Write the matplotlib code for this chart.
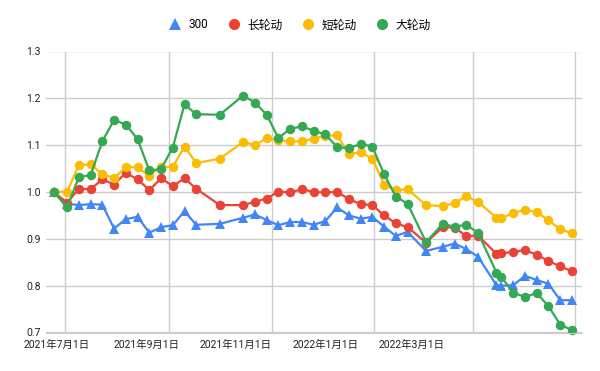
import matplotlib
matplotlib.use("Agg")
import matplotlib.pyplot as plt
from matplotlib.lines import Line2D
import pandas as pd

plt.rcParams['font.family'] = ['Roboto', 'Noto Sans CJK SC', 'DejaVu Sans']

dates = ["2021-06-24", "2021-07-02", "2021-07-09", "2021-07-16", "2021-07-23", "2021-07-30",
         "2021-08-06", "2021-08-13", "2021-08-20", "2021-08-27", "2021-09-03", "2021-09-10",
         "2021-09-17", "2021-10-01", "2021-10-15", "2021-10-22", "2021-10-29", "2021-11-05",
         "2021-11-12", "2021-11-19", "2021-11-26", "2021-12-03", "2021-12-10", "2021-12-17",
         "2021-12-24", "2021-12-31", "2022-01-07", "2022-01-14", "2022-01-21", "2022-02-01",
         "2022-02-11", "2022-02-18", "2022-02-25", "2022-03-04", "2022-03-15", "2022-03-18",
         "2022-03-25", "2022-04-01", "2022-04-08", "2022-04-15", "2022-04-22", "2022-04-29"]

s300 = [1.000, 0.975, 0.972, 0.974, 0.973, 0.922, 0.942, 0.947, 0.913, 0.925, 0.929, 0.959,
        0.930, 0.932, 0.945, 0.952, 0.940, 0.929, 0.936, 0.936, 0.930, 0.938, 0.967, 0.950,
        0.943, 0.947, 0.926, 0.906, 0.915, 0.874, 0.883, 0.890, 0.878, 0.862, 0.801, 0.800,
        0.801, 0.821, 0.812, 0.804, 0.769, 0.769]
long_rot = [1.000, 0.977, 1.007, 1.006, 1.027, 1.016, 1.041, 1.027, 1.004, 1.029, 1.013, 1.029,
            1.007, 0.972, 0.972, 0.979, 0.986, 1.001, 0.999, 1.006, 1.000, 0.999, 1.000, 0.985,
            0.974, 0.972, 0.950, 0.933, 0.925, 0.892, 0.925, 0.924, 0.906, 0.907, 0.868, 0.869,
            0.872, 0.876, 0.866, 0.853, 0.841, 0.831]
short_rot = [1.000, 1.001, 1.057, 1.059, 1.038, 1.030, 1.053, 1.053, 1.034, 1.054, 1.053, 1.097,
             1.062, 1.071, 1.107, 1.100, 1.115, 1.111, 1.108, 1.108, 1.114, 1.120, 1.121, 1.081,
             1.085, 1.071, 1.016, 1.004, 1.006, 0.972, 0.970, 0.976, 0.991, 0.979, 0.945, 0.944,
             0.955, 0.962, 0.957, 0.940, 0.920, 0.912]
big_rot = [1.000, 0.967, 1.032, 1.036, 1.108, 1.154, 1.144, 1.113, 1.046, 1.049, 1.095, 1.187,
           1.166, 1.165, 1.206, 1.191, 1.165, 1.115, 1.135, 1.140, 1.131, 1.123, 1.096, 1.093,
           1.103, 1.097, 1.038, 0.990, 0.975, 0.893, 0.932, 0.926, 0.930, 0.913, 0.828, 0.818,
           0.785, 0.776, 0.784, 0.756, 0.717, 0.705]

series_names = ["300", "长轮动", "短轮动", "大轮动"]
colors = ["#4285F4", "#EA4335", "#FBBC04", "#34A853"]
markers = ["^", "o", "o", "o"]

grid_dates = ["2021-07-01", "2021-09-01", "2021-11-01", "2022-01-01", "2022-03-01", "2022-05-01"]
tick_labels = ["2021年7月1日", "2021年9月1日", "2021年11月1日", "2022年1月1日", "2022年3月1日"]
# where the labels sit (Google-Sheets style offset labels)
label_anchor = ["2021-06-25 18:00", "2021-08-18 10:00", "2021-10-10 17:00", "2021-12-03 08:00", "2022-01-23 15:00"]
yticks = [0.7, 0.8, 0.9, 1.0, 1.1, 1.2, 1.3]

x = pd.to_datetime(dates)

fig = plt.figure(figsize=(6.0, 3.71), dpi=100)
ax = fig.add_axes([46/600, 1 - 332.5/371, (582-46)/600, (332.5-51.5)/371])

for vals, name, c, m in zip([s300, long_rot, short_rot, big_rot], series_names, colors, markers):
    ax.plot(x, vals, color=c, lw=1.6, marker=m, markersize=6.8 if m == "o" else 7.2,
            markeredgewidth=0, label=name, clip_on=False)

ax.set_ylim(0.7, 1.3)
ax.set_yticks(yticks)
ax.set_yticklabels([f"{v:.1f}" for v in yticks])
ax.set_xlim(pd.Timestamp("2021-06-19 10:00"), pd.Timestamp("2022-05-05"))

ax.set_xticks(pd.to_datetime(grid_dates), minor=True)
ax.set_xticks(pd.to_datetime(label_anchor))
ax.set_xticklabels(tick_labels)
ax.grid(True, axis='y', color="#cccccc", lw=1.0)
ax.grid(True, axis='x', which='minor', color="#cccccc", lw=1.0)
ax.grid(False, axis='x', which='major')
ax.set_axisbelow(True)
ax.tick_params(axis='both', which='both', length=0, labelsize=7.5, colors="#222222")
ax.tick_params(axis='x', pad=5)
ax.tick_params(axis='y', pad=4)
for s in ["top", "right", "left"]:
    ax.spines[s].set_visible(False)
ax.spines["bottom"].set_color("#cccccc")

handles = [Line2D([], [], color=c, marker=m, linestyle='none', markersize=8,
                  markeredgewidth=0) for c, m in zip(colors, markers)]
fig.legend(handles, series_names, loc='center', bbox_to_anchor=(0.50, 1 - 25/371), ncol=4,
           frameon=False, fontsize=8.5, handletextpad=0.6, columnspacing=1.7, handlelength=1.0)

fig.savefig("out.png", dpi=100)
